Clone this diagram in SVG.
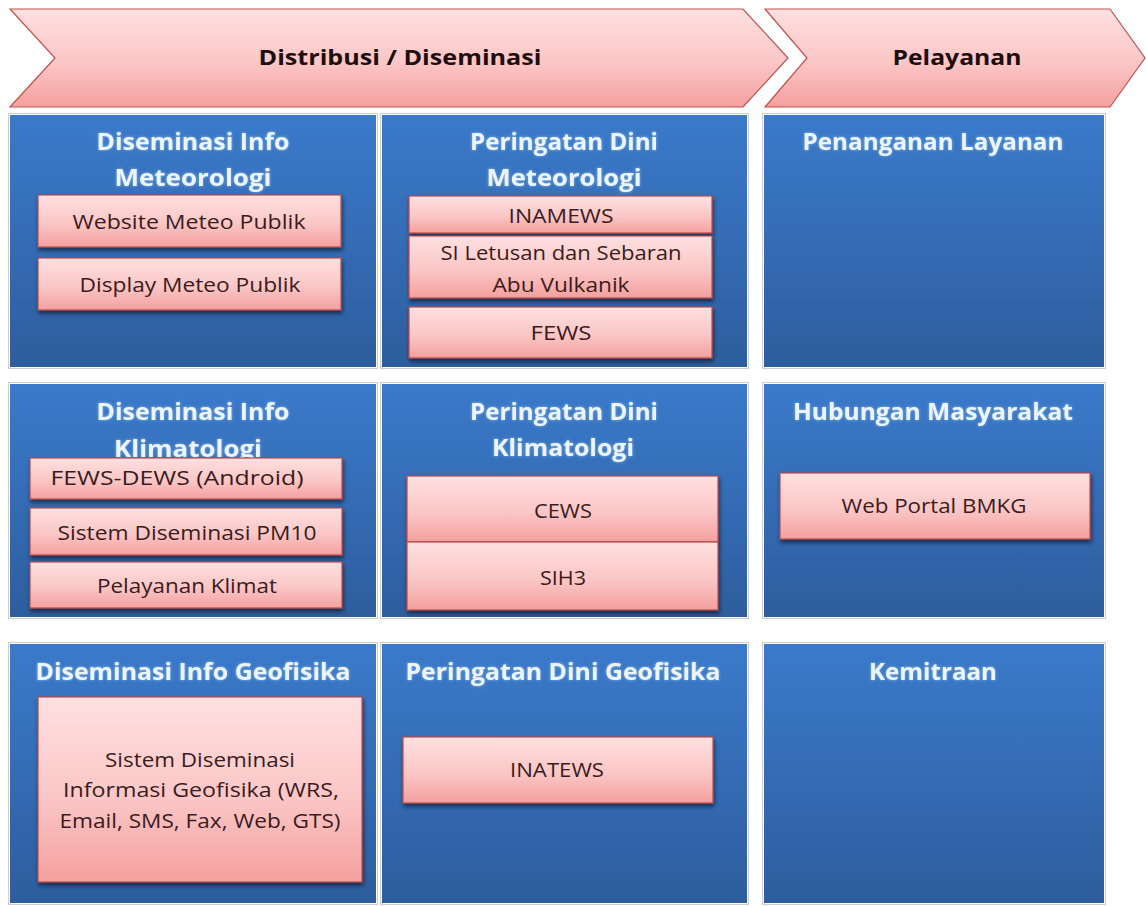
<svg xmlns="http://www.w3.org/2000/svg" width="1146" height="906" viewBox="0 0 1146 906">
  <defs>
    <linearGradient id="gPink" x1="0" y1="0" x2="0" y2="1">
      <stop offset="0" stop-color="#FFE0E0"/>
      <stop offset="0.55" stop-color="#FBC6C6"/>
      <stop offset="1" stop-color="#F4A09E"/>
    </linearGradient>
    <linearGradient id="gBlue" x1="0" y1="0" x2="0" y2="1">
      <stop offset="0" stop-color="#3A7ACA"/>
      <stop offset="0.35" stop-color="#3670BC"/>
      <stop offset="1" stop-color="#2D5D9D"/>
    </linearGradient>
    <filter id="fShadow" x="-10%" y="-20%" width="120%" height="150%">
      <feDropShadow dx="1" dy="3" stdDeviation="2" flood-color="#000" flood-opacity="0.55"/>
    </filter>
    <filter id="fGlow" x="-10%" y="-30%" width="120%" height="160%">
      <feGaussianBlur in="SourceAlpha" stdDeviation="1.6" result="b"/>
      <feFlood flood-color="#D8ECFF" flood-opacity="0.55"/>
      <feComposite in2="b" operator="in" result="g"/>
      <feMerge><feMergeNode in="g"/><feMergeNode in="SourceGraphic"/></feMerge>
    </filter>
  </defs>
  <style>
    .chev { fill: url(#gPink); stroke: #C0504D; stroke-width: 1.2; }
    .panel { fill: url(#gBlue); }
    .dots { fill: none; stroke: #9A9A9A; stroke-width: 1; stroke-dasharray: 1 1; }
    .box { fill: url(#gPink); stroke: #B94A48; stroke-width: 1.2; filter: url(#fShadow); }
    .hdr { font-family: "Open Sans", "Liberation Sans", sans-serif; font-weight: 700; font-size: 22px; fill: #1E0E0E; text-anchor: middle; }
    .ttl { font-family: "Open Sans", "Liberation Sans", sans-serif; font-weight: 700; font-size: 23px; fill: #EAF5FF; text-anchor: middle; filter: url(#fGlow); }
    .lbl { font-family: "Open Sans", "Liberation Sans", sans-serif; font-size: 20px; fill: #3A1C1C; text-anchor: middle; }
  </style>

  <rect width="1146" height="906" fill="#FFFFFF"/>

  <!-- process chevrons -->
  <g id="chevron-distribusi">
    <polygon class="chev" points="10,9 743,9 788,58 743,107 10,107 55,58"/>
    <text class="hdr" x="400" y="65" textLength="283" lengthAdjust="spacingAndGlyphs">Distribusi / Diseminasi</text>
  </g>
  <g id="chevron-pelayanan">
    <polygon class="chev" points="765,9 1110,9 1145,58 1110,107 765,107 807,58"/>
    <text class="hdr" x="957" y="65" textLength="129" lengthAdjust="spacingAndGlyphs">Pelayanan</text>
  </g>

  <!-- row 1 -->
  <g id="panel-diseminasi-meteorologi">
    <rect class="dots" x="8.5" y="113.5" width="369" height="255"/>
    <rect class="panel" x="10" y="115" width="366" height="252"/>
    <text class="ttl" x="193" y="150" textLength="193" lengthAdjust="spacingAndGlyphs">Diseminasi Info</text>
    <text class="ttl" x="193" y="186" textLength="157" lengthAdjust="spacingAndGlyphs">Meteorologi</text>
    <g id="box-website-meteo">
      <rect class="box" x="38" y="195" width="303" height="52"/>
      <text class="lbl" x="189" y="229" textLength="233" lengthAdjust="spacingAndGlyphs">Website Meteo Publik</text>
    </g>
    <g id="box-display-meteo">
      <rect class="box" x="38" y="258" width="303" height="52"/>
      <text class="lbl" x="190" y="292" textLength="221" lengthAdjust="spacingAndGlyphs">Display Meteo Publik</text>
    </g>
  </g>

  <g id="panel-peringatan-meteorologi">
    <rect class="dots" x="380.5" y="113.5" width="368" height="255"/>
    <rect class="panel" x="382" y="115" width="365" height="252"/>
    <text class="ttl" x="564" y="150" textLength="188" lengthAdjust="spacingAndGlyphs">Peringatan Dini</text>
    <text class="ttl" x="564" y="186" textLength="155" lengthAdjust="spacingAndGlyphs">Meteorologi</text>
    <g id="box-inamews">
      <rect class="box" x="409" y="196" width="303" height="37"/>
      <text class="lbl" x="561" y="223" textLength="105" lengthAdjust="spacingAndGlyphs">INAMEWS</text>
    </g>
    <g id="box-letusan">
      <rect class="box" x="409" y="236" width="303" height="62"/>
      <text class="lbl" x="561" y="260" textLength="241" lengthAdjust="spacingAndGlyphs">SI Letusan dan Sebaran</text>
      <text class="lbl" x="561" y="292" textLength="137" lengthAdjust="spacingAndGlyphs">Abu Vulkanik</text>
    </g>
    <g id="box-fews">
      <rect class="box" x="409" y="307" width="303" height="51"/>
      <text class="lbl" x="561" y="340" textLength="61" lengthAdjust="spacingAndGlyphs">FEWS</text>
    </g>
  </g>

  <g id="panel-penanganan-layanan">
    <rect class="dots" x="762.5" y="113.5" width="343" height="255"/>
    <rect class="panel" x="764" y="115" width="340" height="252"/>
    <text class="ttl" x="933" y="150" textLength="261" lengthAdjust="spacingAndGlyphs">Penanganan Layanan</text>
  </g>

  <!-- row 2 -->
  <g id="panel-diseminasi-klimatologi">
    <rect class="dots" x="8.5" y="382.5" width="369" height="236"/>
    <rect class="panel" x="10" y="384" width="366" height="233"/>
    <text class="ttl" x="193" y="420" textLength="193" lengthAdjust="spacingAndGlyphs">Diseminasi Info</text>
    <text class="ttl" x="188" y="457" textLength="148" lengthAdjust="spacingAndGlyphs">Klimatologi</text>
    <g id="box-fews-dews">
      <rect class="box" x="30" y="458" width="312" height="41"/>
      <text class="lbl" x="177" y="485" textLength="253" lengthAdjust="spacingAndGlyphs">FEWS-DEWS (Android)</text>
    </g>
    <g id="box-pm10">
      <rect class="box" x="30" y="508" width="312" height="47"/>
      <text class="lbl" x="187" y="540" textLength="259" lengthAdjust="spacingAndGlyphs">Sistem Diseminasi PM10</text>
    </g>
    <g id="box-pelayanan-klimat">
      <rect class="box" x="30" y="562" width="312" height="46"/>
      <text class="lbl" x="187" y="593" textLength="180" lengthAdjust="spacingAndGlyphs">Pelayanan Klimat</text>
    </g>
  </g>

  <g id="panel-peringatan-klimatologi">
    <rect class="dots" x="380.5" y="382.5" width="368" height="236"/>
    <rect class="panel" x="382" y="384" width="365" height="233"/>
    <text class="ttl" x="564" y="420" textLength="188" lengthAdjust="spacingAndGlyphs">Peringatan Dini</text>
    <text class="ttl" x="563" y="456" textLength="142" lengthAdjust="spacingAndGlyphs">Klimatologi</text>
    <g id="box-cews">
      <rect class="box" x="407" y="476" width="311" height="66"/>
      <text class="lbl" x="563" y="518" textLength="58" lengthAdjust="spacingAndGlyphs">CEWS</text>
    </g>
    <g id="box-sih3">
      <rect class="box" x="407" y="542" width="311" height="68"/>
      <text class="lbl" x="563" y="585" textLength="46" lengthAdjust="spacingAndGlyphs">SIH3</text>
    </g>
  </g>

  <g id="panel-hubungan-masyarakat">
    <rect class="dots" x="762.5" y="382.5" width="343" height="236"/>
    <rect class="panel" x="764" y="384" width="340" height="233"/>
    <text class="ttl" x="933" y="420" textLength="280" lengthAdjust="spacingAndGlyphs">Hubungan Masyarakat</text>
    <g id="box-web-portal">
      <rect class="box" x="780" y="473" width="310" height="66"/>
      <text class="lbl" x="934" y="513" textLength="185" lengthAdjust="spacingAndGlyphs">Web Portal BMKG</text>
    </g>
  </g>

  <!-- row 3 -->
  <g id="panel-diseminasi-geofisika">
    <rect class="dots" x="8.5" y="642.5" width="369" height="262"/>
    <rect class="panel" x="10" y="644" width="366" height="259"/>
    <text class="ttl" x="193" y="680" textLength="315" lengthAdjust="spacingAndGlyphs">Diseminasi Info Geofisika</text>
    <g id="box-sistem-geofisika">
      <rect class="box" x="38" y="697" width="324" height="185"/>
      <text class="lbl" x="200" y="767" textLength="190" lengthAdjust="spacingAndGlyphs">Sistem Diseminasi</text>
      <text class="lbl" x="201" y="797" textLength="276" lengthAdjust="spacingAndGlyphs">Informasi Geofisika (WRS,</text>
      <text class="lbl" x="200" y="828" textLength="281" lengthAdjust="spacingAndGlyphs">Email, SMS, Fax, Web, GTS)</text>
    </g>
  </g>

  <g id="panel-peringatan-geofisika">
    <rect class="dots" x="380.5" y="642.5" width="368" height="262"/>
    <rect class="panel" x="382" y="644" width="365" height="259"/>
    <text class="ttl" x="563" y="680" textLength="315" lengthAdjust="spacingAndGlyphs">Peringatan Dini Geofisika</text>
    <g id="box-inatews">
      <rect class="box" x="403" y="737" width="310" height="66"/>
      <text class="lbl" x="557" y="777" textLength="94" lengthAdjust="spacingAndGlyphs">INATEWS</text>
    </g>
  </g>

  <g id="panel-kemitraan">
    <rect class="dots" x="762.5" y="642.5" width="343" height="262"/>
    <rect class="panel" x="764" y="644" width="340" height="259"/>
    <text class="ttl" x="933" y="680" textLength="128" lengthAdjust="spacingAndGlyphs">Kemitraan</text>
  </g>

  <!-- no connectors in this layout -->
  <g id="connectors"/>
</svg>
